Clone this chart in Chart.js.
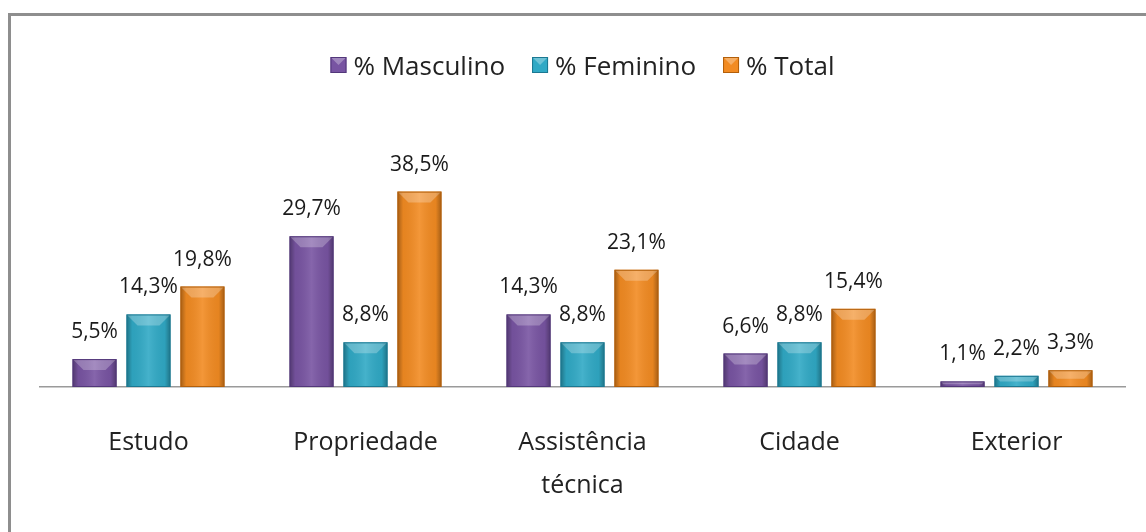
<!DOCTYPE html>
<html>
<head>
<meta charset="utf-8">
<script src="https://cdn.jsdelivr.net/npm/chart.js@4"></script>
<style>
  html, body { margin: 0; padding: 0; background: #fff; }
  #wrap { position: relative; width: 1146px; height: 532px; overflow: hidden; }
  #frame {
    position: absolute; left: 8px; top: 13px; width: 1200px; height: 600px;
    border-top: 3px solid #8e8e8e; border-left: 3px solid #8e8e8e;
  }
  #chart { position: absolute; left: 0; top: 0; }
</style>
</head>
<body>
<div id="wrap">
  <div id="frame"></div>
  <canvas id="chart" width="1146" height="532"></canvas>
</div>
<script>
// categories and series (percentages)
const categories = ['Estudo', 'Propriedade', ['Assistência', 'técnica'], 'Cidade', 'Exterior'];
const masculino = [5.5, 29.7, 14.3, 6.6, 1.1];
const feminino = [14.3, 8.8, 8.8, 8.8, 2.2];
const total = [19.8, 38.5, 23.1, 15.4, 3.3];
const seriesLabels = ['% Masculino', '% Feminino', '% Total'];

const fills = ['#7854a2', '#30a9c5', '#f28b22'];
const edges = ['#52377a', '#1b7892', '#b35f0a'];

const FONT = '"Open Sans", "DejaVu Sans", sans-serif';

// 3D-ish bevel on each bar, drawn over the library's bar elements
const bevelPlugin = {
  id: 'bevel',
  afterDatasetsDraw(chart) {
    const ctx = chart.ctx;
    chart.data.datasets.forEach((ds, i) => {
      const meta = chart.getDatasetMeta(i);
      meta.data.forEach(el => {
        const p = el.getProps(['x', 'y', 'base', 'width'], true);
        const left = p.x - p.width / 2;
        const h = p.base - p.y;
        ctx.save();
        const g = ctx.createLinearGradient(left, 0, left + p.width, 0);
        g.addColorStop(0, 'rgba(0,0,0,0.32)');
        g.addColorStop(0.13, 'rgba(0,0,0,0.05)');
        g.addColorStop(0.5, 'rgba(255,255,255,0.10)');
        g.addColorStop(0.87, 'rgba(0,0,0,0.05)');
        g.addColorStop(1, 'rgba(0,0,0,0.32)');
        ctx.fillStyle = g;
        ctx.fillRect(left, p.y, p.width, h);
        const b = Math.min(11, h / 2);
        ctx.beginPath();
        ctx.moveTo(left, p.y);
        ctx.lineTo(left + p.width, p.y);
        ctx.lineTo(left + p.width - b, p.y + b);
        ctx.lineTo(left + b, p.y + b);
        ctx.closePath();
        ctx.fillStyle = 'rgba(255,255,255,0.25)';
        ctx.fill();
        ctx.strokeStyle = edges[i];
        ctx.lineWidth = 1;
        ctx.strokeRect(left + 0.5, p.y + 0.5, p.width - 1, h - 1);
        ctx.restore();
      });
    });
  }
};

// value labels above bars
const valueLabels = {
  id: 'valueLabels',
  afterDatasetsDraw(chart) {
    const ctx = chart.ctx;
    ctx.save();
    ctx.font = '21px ' + FONT;
    ctx.fillStyle = '#1a1a1a';
    ctx.textAlign = 'center';
    ctx.textBaseline = 'alphabetic';
    chart.data.datasets.forEach((ds, i) => {
      chart.getDatasetMeta(i).data.forEach((el, j) => {
        const txt = ds.data[j].toFixed(1).replace('.', ',') + '%';
        ctx.fillText(txt, el.x, el.y - 21);
      });
    });
    ctx.restore();
  }
};

// legend drawn at the top, centered on the plot area
const topLegend = {
  id: 'topLegend',
  afterDraw(chart) {
    const ctx = chart.ctx;
    ctx.save();
    ctx.font = '26px ' + FONT;
    const box = 16, gap = 7, itemGap = 27;
    const widths = chart.data.datasets.map(ds => box + gap + ctx.measureText(ds.label).width);
    const totalW = widths.reduce((a, b) => a + b, 0) + itemGap * (widths.length - 1);
    const area = chart.chartArea;
    let x = (area.left + area.right) / 2 - totalW / 2;
    const baseY = 75;
    const top = baseY - 18;
    chart.data.datasets.forEach((ds, i) => {
      ctx.fillStyle = fills[i];
      ctx.fillRect(x, top, box, box);
      ctx.beginPath();
      ctx.moveTo(x, top);
      ctx.lineTo(x + box, top);
      ctx.lineTo(x + box / 2, top + box / 2);
      ctx.closePath();
      ctx.fillStyle = 'rgba(255,255,255,0.3)';
      ctx.fill();
      ctx.strokeStyle = edges[i];
      ctx.strokeRect(x + 0.5, top + 0.5, box - 1, box - 1);
      ctx.fillStyle = '#222';
      ctx.textBaseline = 'alphabetic';
      ctx.fillText(ds.label, x + box + gap, baseY);
      x += widths[i] + itemGap;
    });
    ctx.restore();
  }
};

new Chart(document.getElementById('chart'), {
  type: 'bar',
  data: {
    labels: categories,
    datasets: [
      { label: seriesLabels[0], data: masculino, backgroundColor: fills[0] },
      { label: seriesLabels[1], data: feminino, backgroundColor: fills[1] },
      { label: seriesLabels[2], data: total, backgroundColor: fills[2] }
    ]
  },
  options: {
    responsive: false,
    animation: false,
    devicePixelRatio: 1,
    categoryPercentage: 0.746,
    barPercentage: 0.815,
    layout: { padding: { top: 184, left: 40, right: 21, bottom: 0 } },
    plugins: {
      legend: { display: false },
      tooltip: { enabled: false }
    },
    scales: {
      x: {
        grid: { display: false, drawTicks: false },
        border: { display: true, color: '#9a9a9a', width: 1.5 },
        ticks: {
          color: '#222',
          padding: 34,
          maxRotation: 0,
          autoSkip: false,
          font: { family: FONT, size: 25, lineHeight: 1.72 }
        },
        afterFit: s => { s.height = 145; }
      },
      y: {
        display: false,
        min: 0,
        max: 40
      }
    }
  },
  plugins: [bevelPlugin, valueLabels, topLegend]
});
</script>
</body>
</html>
